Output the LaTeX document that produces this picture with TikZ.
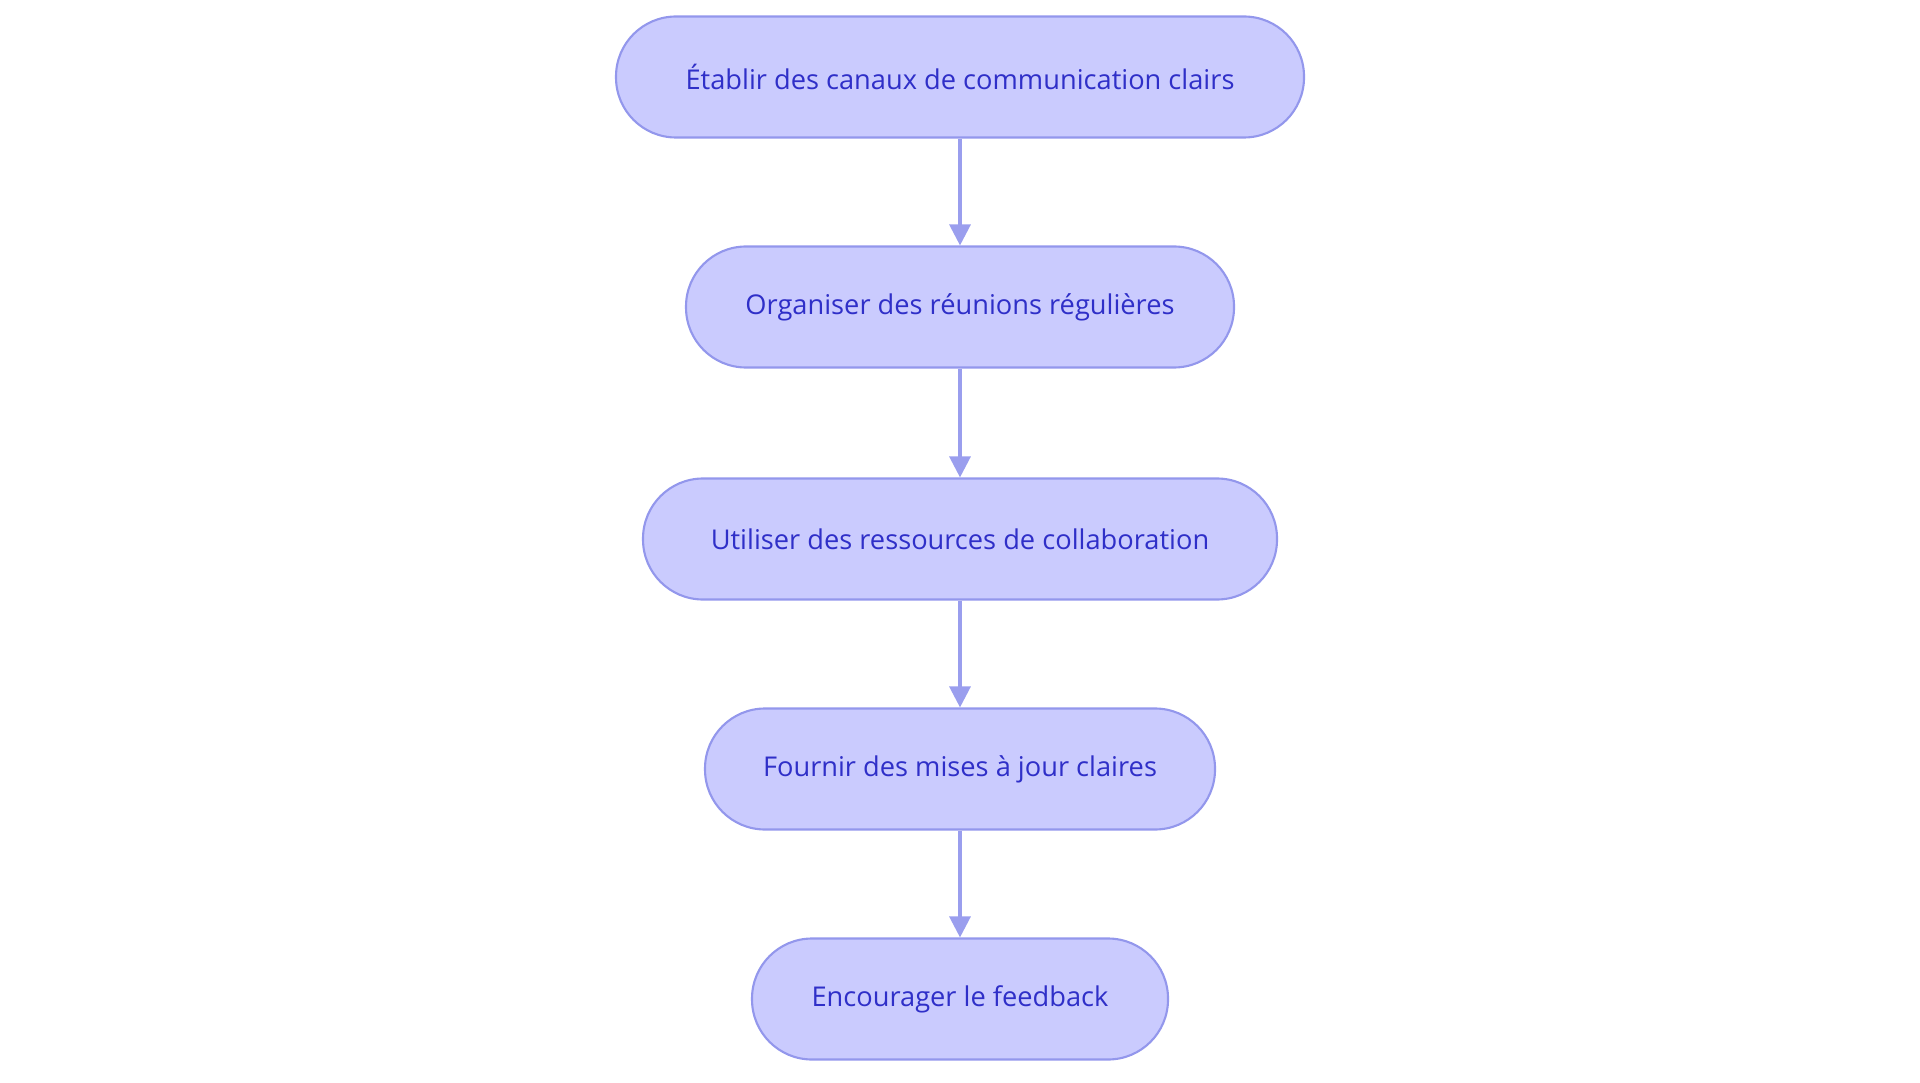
\documentclass[tikz,border=0pt]{standalone}
\usepackage{fontspec}
\setmainfont{Open Sans}
\usetikzlibrary{arrows.meta}
\definecolor{boxfill}{HTML}{CACBFE}
\definecolor{boxline}{HTML}{9397EC}
\definecolor{boxtext}{HTML}{2F2FC8}
\definecolor{arrowcol}{HTML}{9A9EEE}
\tikzset{
	stage/.style={rectangle,draw=boxline,fill=boxfill,line width=1.2pt,rounded corners=1.2cm,minimum height=2.42cm,inner sep=0pt,text=boxtext,font=\fontsize{15.5pt}{18pt}\selectfont},
	flow/.style={draw=arrowcol,line width=1.8pt,-{Triangle[length=0.42cm,width=0.42cm]}}
}
\begin{document}
\begin{tikzpicture}
	\useasboundingbox (0,0) rectangle (38.4,-21.66);
	\node[stage,minimum width=13.76cm](canaux) at (19.2,-1.54){Établir des canaux de communication clairs};
	\node[stage,minimum width=10.96cm](reunions) at (19.2,-6.14){Organiser des réunions régulières};
	\node[stage,minimum width=12.68cm](ressources) at (19.2,-10.78){Utiliser des ressources de collaboration};
	\node[stage,minimum width=10.2cm](miseajour) at (19.2,-15.38){Fournir des mises à jour claires};
	\node[stage,minimum width=8.32cm](feedback) at (19.2,-19.98){Encourager le feedback};
	\draw[flow](canaux)--(reunions);
	\draw[flow](reunions)--(ressources);
	\draw[flow](ressources)--(miseajour);
	\draw[flow](miseajour)--(feedback);
\end{tikzpicture}
\end{document}
